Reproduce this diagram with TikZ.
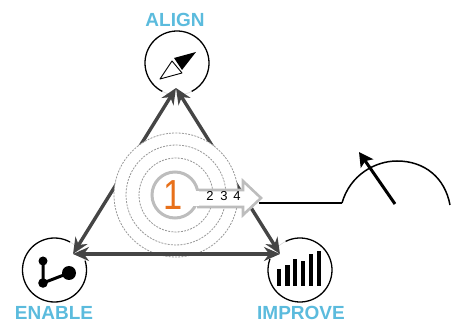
\documentclass[tikz,border=0pt]{standalone}
\usepackage{fontspec}
\setmainfont{Liberation Sans}
\usetikzlibrary{arrows.meta,calc}
\definecolor{lab}{HTML}{5BBBDD}
\definecolor{edge}{HTML}{454545}
\definecolor{ring}{HTML}{BDBDBD}
\definecolor{dashc}{HTML}{989898}
\definecolor{orng}{HTML}{E8701A}
\tikzset{
 lbl/.style={font=\bfseries\fontsize{19}{19}\selectfont,text=lab,inner sep=0pt},
 hub/.style={circle,minimum size=64pt,inner sep=0pt,outer sep=0pt},
 rim/.style={black,line width=1.3pt},
 rimgap/.style={ring!60,line width=.6pt},
 tri/.style={edge,line width=3.4pt,{Stealth[length=16pt,width=14pt]}-{Stealth[length=16pt,width=14pt]}},
 dashring/.style={circle,draw=dashc,dash pattern=on 2pt off 1.2pt,line width=.8pt,inner sep=0pt},
 bar/.style={fill=black,draw=none},
 ico/.style={black,line width=3pt},
 digit/.style={inner sep=0pt,font=\fontsize{13}{13}\selectfont},
}
\begin{document}
\begin{tikzpicture}[x=1pt,y=-1pt]
\useasboundingbox (0,0) rectangle (456,323);
\node[hub] (align) at (177,63) {};
\node[hub] (enable) at (54.5,270) {};
\node[hub] (improve) at (300,270) {};
\coordinate (tA) at (176,88);
\coordinate (tE) at (73,254);
\coordinate (tI) at (280,254);
% rims with gaps
\draw[rim] ($(align)+(117:32)$) arc[start angle=117,end angle=423,radius=32];
\draw[rimgap] ($(align)+(63:32)$) arc[start angle=63,end angle=117,radius=32];
\draw[rim] ($(enable)+(-17:32)$) arc[start angle=-17,end angle=299,radius=32];
\draw[rimgap] ($(enable)+(-61:32)$) arc[start angle=-61,end angle=-17,radius=32];
\draw[rim] ($(improve)+(243:32)$) arc[start angle=243,end angle=560,radius=32];
\draw[rimgap] ($(improve)+(200:32)$) arc[start angle=200,end angle=243,radius=32];
% triangle
\draw[tri] (tA) -- (tE);
\draw[tri] (tA) -- (tI);
% rings
\node[dashring,fill=white,minimum size=124pt] (r3) at (176,195) {};
\node[dashring,minimum size=100pt] (r2) at (176,195) {};
\node[dashring,minimum size=74pt] (r1) at (176,195) {};
\draw[tri] (tE) -- (tI);
% centre arrow
\node[circle,draw=ring,line width=3pt,fill=white,minimum size=46pt,inner sep=0pt] (core) at (175,195) {};
\coordinate (tip) at (261,198);
\filldraw[draw=ring,fill=white,line width=2.6pt,line join=miter] (197,190) -- (243,190) -- (243,181) -- (tip) -- (243,215) -- (243,207) -- (197,207);
\fill[white] (190,191.3) rectangle (199,205.7);
\node[inner sep=0pt,text=orng,font=\fontsize{42}{42}\selectfont,xscale=.82] (one) at (173,195.5) {1};
\node[digit] (n2) at (210,196) {2};
\node[digit] (n3) at (224,196) {3};
\node[digit] (n4) at (237,196) {4};
% labels
\node[lbl] (lA) at (175,20) {ALIGN};
\node[lbl] (lE) at (54,313) {ENABLE};
\node[lbl] (lI) at (301,313) {IMPROVE};
% compass
\fill[black] (196,52) -- (174,58) -- (182,70) -- cycle;
\draw[black,line width=.9pt,fill=white,line join=round] (160,79) -- (172,61) -- (182,73) -- cycle;
% enable icon
\coordinate (e1) at (43,261);
\coordinate (e2) at (43,283);
\coordinate (e3) at (69,273);
\draw[ico] (e1) -- (e2) -- (e3);
\fill (e1) circle[radius=4.5];
\fill (e2) circle[radius=4.8];
\fill (e3) circle[radius=7];
% bars
\foreach \a/\t in {140/147,165/135,188/118,212/124,236/103,260/93}
  \fill[bar] ({230+\a/3},{220+\t/3}) rectangle ({230+\a/3+4.7},286);
% dial
\coordinate (d0) at (259,203);
\coordinate (d1) at (342,203);
\coordinate (d2) at (450,205);
\coordinate (n0) at (395,204);
\coordinate (n1) at (359,152);
\draw[black,line width=1.9pt] (d0) -- (d1);
\draw[black,line width=1.5pt] (d1) .. controls (350,175) and (375,161) .. (397,161) .. controls (425,161) and (445,178) .. (d2);
\draw[black,line width=3pt,-{Stealth[length=14pt,width=15pt,inset=3pt]}] (n0) -- (n1);
\end{tikzpicture}
\end{document}
